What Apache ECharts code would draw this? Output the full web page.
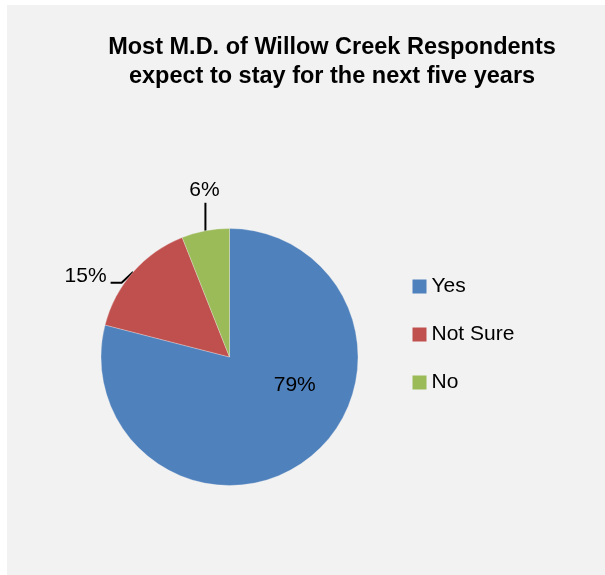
<!DOCTYPE html>
<html>
<head>
<meta charset="utf-8">
<script src="https://cdn.jsdelivr.net/npm/echarts@6/dist/echarts.min.js"></script>
<style>
html, body { margin: 0; padding: 0; background: #ffffff; }
#chart { width: 605px; height: 575px; }
</style>
</head>
<body>
<div id="chart"></div>
<script>
const titleText = 'Most M.D. of Willow Creek Respondents\nexpect to stay for the next five years';
const categories = ['Yes', 'Not Sure', 'No'];
const values = [79, 15, 6];
const colors = ['#4f81bd', '#c0504d', '#9bbb59'];

const FONT = '"Liberation Sans", Arial, sans-serif';

const chart = echarts.init(document.getElementById('chart'), null, { renderer: 'canvas' });

const option = {
  backgroundColor: '#ffffff',
  animation: false,
  graphic: [{
    type: 'rect',
    left: 7, top: 5,
    shape: { width: 598, height: 570 },
    style: { fill: '#f2f2f2' },
    z: -10
  }],
  title: {
    text: titleText,
    left: 332,
    top: 33,
    padding: 0,
    textAlign: 'center',
    textStyle: {
      fontFamily: FONT,
      fontWeight: 'bold',
      fontSize: 23.5,
      lineHeight: 29,
      color: '#000000'
    }
  },
  legend: {
    orient: 'vertical',
    left: 412.5,
    top: 276,
    padding: 0,
    itemWidth: 14,
    itemHeight: 14,
    itemGap: 27,
    itemTextGap: 5,
    icon: 'rect',
    data: categories,
    itemStyle: { borderWidth: 0 },
    textStyle: { fontFamily: FONT, fontSize: 21, color: '#000000', lineHeight: 21 }
  },
  series: [{
    type: 'pie',
    center: [229.5, 357],
    radius: [0, 128.5],
    startAngle: 90,
    clockwise: true,
    avoidLabelOverlap: false,
    itemStyle: { borderColor: '#f2f2f2', borderWidth: 0.3 },
    label: {
      show: true,
      fontFamily: FONT,
      fontSize: 21,
      color: '#000000',
      formatter: function (p) { return p.value + '%'; }
    },
    labelLine: {
      show: true,
      lineStyle: { color: '#000000', width: 2 }
    },
    emphasis: { disabled: true },
    data: categories.map(function (c, i) {
      const d = { name: c, value: values[i], itemStyle: { color: colors[i] } };
      if (i === 0) {
        d.label = { position: 'inside' };
        d.labelLine = { show: false };
      } else {
        d.label = { position: 'outside' };
        d.labelLine = { show: true, length: 12, length2: 12 };
      }
      return d;
    }),
    labelLayout: function (params) {
      if (params.dataIndex === 0) {
        return { dx: 24, dy: -25 };
      }
      const pts = params.labelLinePoints;
      if (!pts) return {};
      const p0 = pts[0];
      if (params.dataIndex === 1) {
        const p1 = [p0[0] - 11.5, p0[1] + 10.7];
        const p2 = [p1[0] - 11, p1[1]];
        return {
          x: p2[0] - 4,
          y: p2[1] - 7,
          align: 'right',
          verticalAlign: 'middle',
          labelLinePoints: [p0, p1, p2]
        };
      } else {
        const p1 = [p0[0], p0[1] - 28];
        const p2 = [p0[0], p0[1] - 28];
        return {
          x: p0[0] - 1,
          y: p1[1] - 13,
          align: 'center',
          verticalAlign: 'middle',
          labelLinePoints: [p0, p1, p2]
        };
      }
    }
  }]
};

chart.setOption(option);
</script>
</body>
</html>
